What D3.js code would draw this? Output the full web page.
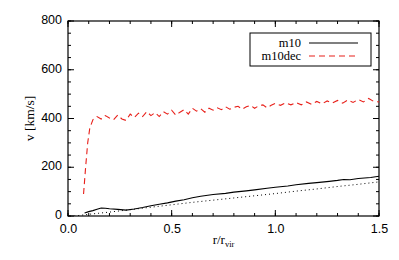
<!DOCTYPE html>
<html>
<head>
<meta charset="utf-8">
<script src="https://cdn.jsdelivr.net/npm/d3@7"></script>
<style>
  body { margin: 0; background: #fff; }
  .tick text { font-family: "Liberation Sans", Arial, sans-serif; }
</style>
</head>
<body>
<div id="chart"></div>
<script>
// m10 dec curve (red dashed)
const decR = [0.075,0.085,0.095,0.105,0.12,0.14,0.16,0.18,0.20,0.22,0.24,0.26,0.28,0.30,0.32,0.34,0.36,0.38,0.40,0.42,0.44,0.46,0.48,0.50,0.52,0.54,0.56,0.58,0.60,0.62,0.64,0.66,0.68,0.70,0.72,0.74,0.76,0.78,0.80,0.82,0.84,0.86,0.88,0.90,0.92,0.94,0.96,0.98,1.00,1.025,1.05,1.075,1.10,1.125,1.15,1.175,1.20,1.225,1.25,1.275,1.30,1.325,1.35,1.375,1.40,1.425,1.45,1.475,1.50];
const decV = [90,200,300,360,395,408,398,412,402,395,414,398,392,418,404,422,408,428,412,424,408,428,418,434,414,426,436,418,442,430,440,426,442,434,444,436,448,438,446,450,438,448,454,442,452,456,444,454,462,454,464,456,466,456,468,458,470,460,472,464,474,463,476,466,478,468,482,470,468];

// m10 curve (black solid)
const m10R = [0.08,0.10,0.12,0.14,0.16,0.18,0.20,0.24,0.28,0.32,0.36,0.40,0.44,0.48,0.52,0.56,0.60,0.64,0.70,0.76,0.80,0.86,0.90,0.96,1.00,1.06,1.10,1.16,1.20,1.26,1.30,1.33,1.36,1.40,1.43,1.46,1.50];
const m10V = [12,18,22,28,33,32,30,27,24,29,35,42,48,54,61,67,75,81,88,93,98,103,107,114,118,123,128,134,137,142,146,150,149,154,156,158,163];

// dotted reference line
const refR = [0.03,0.1,0.2,0.3,0.4,0.5,0.6,0.7,0.8,0.9,1.0,1.1,1.2,1.3,1.4,1.5];
const refV = [0,7,16,26,36,46,56,65,74,83,92,102,111,121,130,140];

const xTicks = [0, 0.5, 1.0, 1.5];
const yTicks = [0, 200, 400, 600, 800];

const width = 399, height = 260;
const margin = {left: 68, right: 20, top: 21, bottom: 44};

const x = d3.scaleLinear().domain([0, 1.5]).range([margin.left, width - margin.right]);
const y = d3.scaleLinear().domain([0, 800]).range([height - margin.bottom, margin.top]);

const svg = d3.select("#chart").append("svg")
  .attr("width", width)
  .attr("height", height);

// frame
svg.append("rect")
  .attr("x", x(0)).attr("y", y(800))
  .attr("width", x(1.5) - x(0)).attr("height", y(0) - y(800))
  .attr("fill", "none").attr("stroke", "#000").attr("stroke-width", 1.2);

// minor + major ticks on all four sides
const xMinor = d3.range(0, 1.5001, 0.1);
const yMinor = d3.range(0, 800.1, 50);

function tickMarks(vals, isX, len) {
  vals.forEach(v => {
    if (isX) {
      svg.append("line").attr("x1", x(v)).attr("x2", x(v))
        .attr("y1", y(0)).attr("y2", y(0) - len).attr("stroke", "#000");
      svg.append("line").attr("x1", x(v)).attr("x2", x(v))
        .attr("y1", y(800)).attr("y2", y(800) + len).attr("stroke", "#000");
    } else {
      svg.append("line").attr("y1", y(v)).attr("y2", y(v))
        .attr("x1", x(0)).attr("x2", x(0) + len).attr("stroke", "#000");
      svg.append("line").attr("y1", y(v)).attr("y2", y(v))
        .attr("x1", x(1.5)).attr("x2", x(1.5) - len).attr("stroke", "#000");
    }
  });
}
tickMarks(xMinor, true, 3);
tickMarks(xTicks, true, 6);
tickMarks(yMinor, false, 3);
tickMarks(yTicks, false, 6);

// tick labels via axes (lines hidden)
const xAxis = svg.append("g")
  .attr("transform", `translate(0,${y(0)})`)
  .call(d3.axisBottom(x).tickValues(xTicks).tickFormat(d3.format(".1f")).tickSize(0).tickPadding(8));
const yAxis = svg.append("g")
  .attr("transform", `translate(${x(0)},0)`)
  .call(d3.axisLeft(y).tickValues(yTicks).tickSize(0).tickPadding(6));
[xAxis, yAxis].forEach(g => {
  g.select(".domain").remove();
  g.selectAll("text").attr("font-size", 12.5).attr("fill", "#000");
});
yAxis.selectAll("text").attr("dy", "0.2em");

// axis titles
const xt = svg.append("text")
  .attr("x", x(0.75)).attr("y", 244)
  .attr("text-anchor", "middle")
  .attr("font-family", "Liberation Serif, serif").attr("font-size", 13);
xt.append("tspan").text("r/r");
xt.append("tspan").attr("font-size", 8.5).attr("dy", 3).text("vir");

svg.append("text")
  .attr("transform", `translate(34,${y(400)}) rotate(-90)`)
  .attr("text-anchor", "middle")
  .attr("font-family", "Liberation Serif, serif").attr("font-size", 13.5)
  .text("v [km/s]");

// curves
const line = d3.line().x(d => x(d[0])).y(d => y(d[1]));
svg.append("clipPath").attr("id", "clip").append("rect")
  .attr("x", x(0)).attr("y", y(800)).attr("width", x(1.5) - x(0)).attr("height", y(0) - y(800));

svg.append("path")
  .datum(refR.map((r, i) => [r, refV[i]]))
  .attr("d", line).attr("fill", "none").attr("stroke", "#000")
  .attr("stroke-width", 1).attr("stroke-dasharray", "1,3").attr("clip-path", "url(#clip)");

svg.append("path")
  .datum(m10R.map((r, i) => [r, m10V[i]]))
  .attr("d", line).attr("fill", "none").attr("stroke", "#000")
  .attr("stroke-width", 1.1).attr("clip-path", "url(#clip)");

svg.append("path")
  .datum(decR.map((r, i) => [r, decV[i]]))
  .attr("d", line).attr("fill", "none").attr("stroke", "#e8201a")
  .attr("stroke-width", 1.1).attr("stroke-dasharray", "6,4").attr("clip-path", "url(#clip)");

// legend
const lg = svg.append("g");
lg.append("rect").attr("x", 250).attr("y", 33).attr("width", 121).attr("height", 33)
  .attr("fill", "#fff").attr("stroke", "#000").attr("stroke-width", 1);
const names = ["m10", "m10dec"];
const colors = ["#000", "#e8201a"];
const dashes = [null, "6,4"];
names.forEach((n, i) => {
  const yy = 43 + i * 13;
  lg.append("text").attr("x", 301).attr("y", yy + 4)
    .attr("text-anchor", "end")
    .attr("font-family", "Liberation Serif, serif").attr("font-size", 12.5)
    .text(n);
  lg.append("line").attr("x1", 309).attr("x2", 358).attr("y1", yy).attr("y2", yy)
    .attr("stroke", colors[i]).attr("stroke-width", 1.1)
    .attr("stroke-dasharray", dashes[i]);
});
</script>
</body>
</html>
